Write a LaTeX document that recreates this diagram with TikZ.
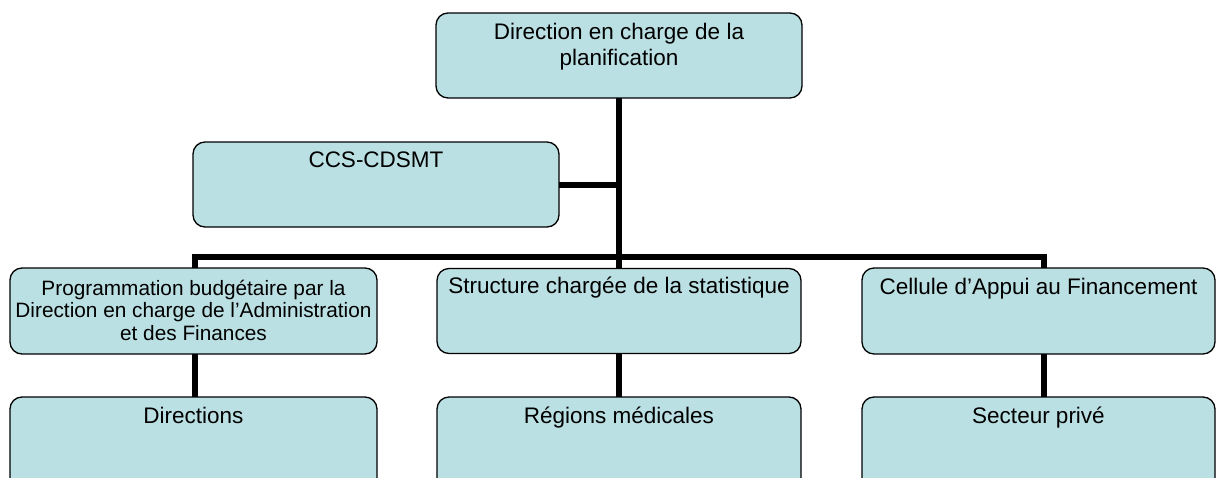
\documentclass[tikz,border=0pt]{standalone}
\usepackage{fontspec}
\setmainfont{Liberation Sans}
\definecolor{boxfill}{RGB}{187,224,227}
\begin{document}
\begin{tikzpicture}[x=1pt,y=-1pt,
  box/.style={draw=black, line width=1.3pt, fill=boxfill, rounded corners=12pt, inner sep=0pt, outer sep=0pt},
  conn/.style={line width=6pt, draw=black},
  lbl/.style={anchor=base, inner sep=0pt, font=\fontsize{22.5}{26}\selectfont, align=center},
  smalllbl/.style={anchor=base, inner sep=0pt, font=\fontsize{20.8}{22.8}\selectfont}]
\clip (0,0) rectangle (1216,477);
% boxes
\node[box, minimum width=366pt, minimum height=85pt] (top) at (619,55.5) {};
\node[box, minimum width=366pt, minimum height=85pt] (ccs) at (376,184.5) {};
\node[box, minimum width=367pt, minimum height=86pt] (prog) at (193.5,311) {};
\node[box, minimum width=364pt, minimum height=85pt] (struct) at (619,311) {};
\node[box, minimum width=353pt, minimum height=86pt] (cell) at (1038.5,311) {};
\node[box, minimum width=367pt, minimum height=93pt] (dir) at (193.5,443.5) {};
\node[box, minimum width=364pt, minimum height=93pt] (reg) at (619,443.5) {};
\node[box, minimum width=353pt, minimum height=93pt] (sect) at (1038.5,443.5) {};
% connectors
\coordinate (bus) at (619,257);
\draw[conn] (top.south) -- (struct.north);
\draw[conn] (ccs.east) -- (ccs.east -| top.south);
\draw[conn] ([xshift=1.5pt]prog.north) |- (bus) -| ([xshift=5.5pt]cell.north);
\draw[conn] ([xshift=1.5pt]prog.south) -- ([xshift=1.5pt]dir.north);
\draw[conn] (struct.south) -- (reg.north);
\draw[conn] ([xshift=5.5pt]cell.south) -- ([xshift=5.5pt]sect.north);
% labels
\node[lbl] (topt) at ([yshift=-26pt]top.north) {\parbox[t]{340pt}{\centering Direction en charge de la\\planification}};
\node[lbl] (ccst) at ([yshift=-25pt]ccs.north) {CCS-CDSMT};
\node[smalllbl] (progt) at ([yshift=-27pt]prog.north) {\parbox[t]{362pt}{\centering Programmation budgétaire par la\\Direction en charge de l’Administration\\et des Finances}};
\node[lbl] (structt) at ([yshift=-25pt]struct.north) {Structure chargée de la statistique};
\node[lbl] (cellt) at ([yshift=-26pt]cell.north) {Cellule d’Appui au Financement};
\node[lbl] (dirt) at ([yshift=-26pt]dir.north) {Directions};
\node[lbl] (regt) at ([yshift=-26pt]reg.north) {Régions médicales};
\node[lbl] (sectt) at ([yshift=-26pt]sect.north) {Secteur privé};
\end{tikzpicture}
\end{document}
